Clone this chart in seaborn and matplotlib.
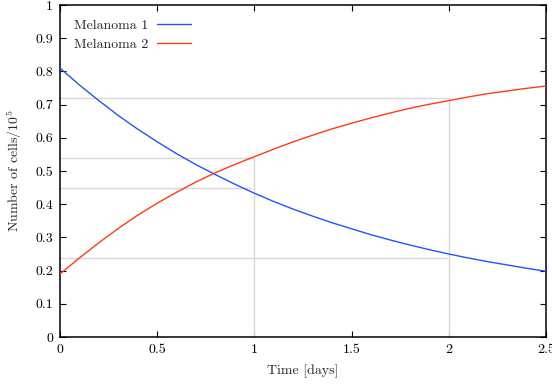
import numpy as np
import pandas as pd
import seaborn as sns
import matplotlib
matplotlib.use("Agg")
import matplotlib.pyplot as plt
from matplotlib.ticker import FuncFormatter, MultipleLocator

# Data
time = [0.0, 0.1, 0.2, 0.3, 0.4, 0.5, 0.6, 0.7, 0.8, 0.9, 1.0, 1.1, 1.2,
        1.3, 1.4, 1.5, 1.6, 1.7, 1.8, 1.9, 2.0, 2.1, 2.2, 2.3, 2.4, 2.5]
melanoma1 = [0.810, 0.759, 0.712, 0.667, 0.626, 0.588, 0.552, 0.519, 0.489,
             0.460, 0.433, 0.408, 0.385, 0.364, 0.344, 0.326, 0.308, 0.292,
             0.277, 0.263, 0.250, 0.238, 0.227, 0.217, 0.207, 0.198]
melanoma2 = [0.190, 0.238, 0.284, 0.327, 0.367, 0.403, 0.436, 0.467, 0.495,
             0.520, 0.543, 0.566, 0.588, 0.608, 0.627, 0.644, 0.660, 0.675,
             0.689, 0.701, 0.712, 0.723, 0.733, 0.741, 0.749, 0.756]
series_names = ["Melanoma 1", "Melanoma 2"]

# Grey guide lines: (level, x-extent)
h_levels = [0.72, 0.54, 0.45, 0.237]
h_ends = [2.0, 1.0, 0.98, 1.99]
v_positions = [1.0, 2.0]
v_tops = [0.54, 0.72]

x_ticks = [0, 0.5, 1, 1.5, 2, 2.5]
y_ticks = [0, 0.1, 0.2, 0.3, 0.4, 0.5, 0.6, 0.7, 0.8, 0.9, 1.0]

df = pd.DataFrame({
    "time": time * 2,
    "value": melanoma1 + melanoma2,
    "series": [series_names[0]] * len(time) + [series_names[1]] * len(time),
})

sns.set_style("ticks")
plt.rcParams.update({
    "font.family": "serif",
    "font.serif": ["cmr10", "DejaVu Serif"],
    "mathtext.fontset": "cm",
    "axes.formatter.use_mathtext": True,
    "font.size": 10,
    "xtick.direction": "in",
    "ytick.direction": "in",
    "xtick.top": True,
    "ytick.right": True,
    "xtick.major.size": 4,
    "ytick.major.size": 4,
    "axes.linewidth": 1.1,
    "axes.unicode_minus": False,
})

fig = plt.figure(figsize=(5.52, 3.85), dpi=100)
ax = fig.add_axes([60 / 552, 1 - 337 / 385, (546 - 60) / 552, (337 - 5) / 385])

grey = "#d8d8d8"
for lvl, end in zip(h_levels, h_ends):
    ax.plot([0, end], [lvl, lvl], color=grey, lw=1.0, zorder=1)
for xp, top in zip(v_positions, v_tops):
    ax.plot([xp, xp], [0, top], color=grey, lw=1.0, zorder=1)

palette = {"Melanoma 1": "#2452ff", "Melanoma 2": "#ff3b14"}
sns.lineplot(data=df, x="time", y="value", hue="series", palette=palette,
             ax=ax, lw=1.0, legend=False, zorder=3)

handles = [plt.Line2D([], [], color=palette[n], lw=1.0) for n in series_names]
ax.legend(handles, series_names, loc="upper left", frameon=False,
          markerfirst=False, handlelength=2.5, handletextpad=0.6,
          labelspacing=0.5, fontsize=10, borderaxespad=0.6)

ax.set_xlim(0, 2.5)
ax.set_ylim(0, 1)
ax.set_xticks(x_ticks)
ax.set_yticks(y_ticks)
fmt = FuncFormatter(lambda v, p: "%g" % v)
ax.xaxis.set_major_formatter(fmt)
ax.yaxis.set_major_formatter(fmt)
for s in ax.spines.values():
    s.set_color("black")
ax.tick_params(colors="black", labelsize=10, pad=5)
ax.set_xlabel("Time [days]", fontsize=10, labelpad=6)
ax.set_ylabel(r"Number of cells/$10^5$", fontsize=10, labelpad=8)

fig.savefig("out.png", dpi=100)
